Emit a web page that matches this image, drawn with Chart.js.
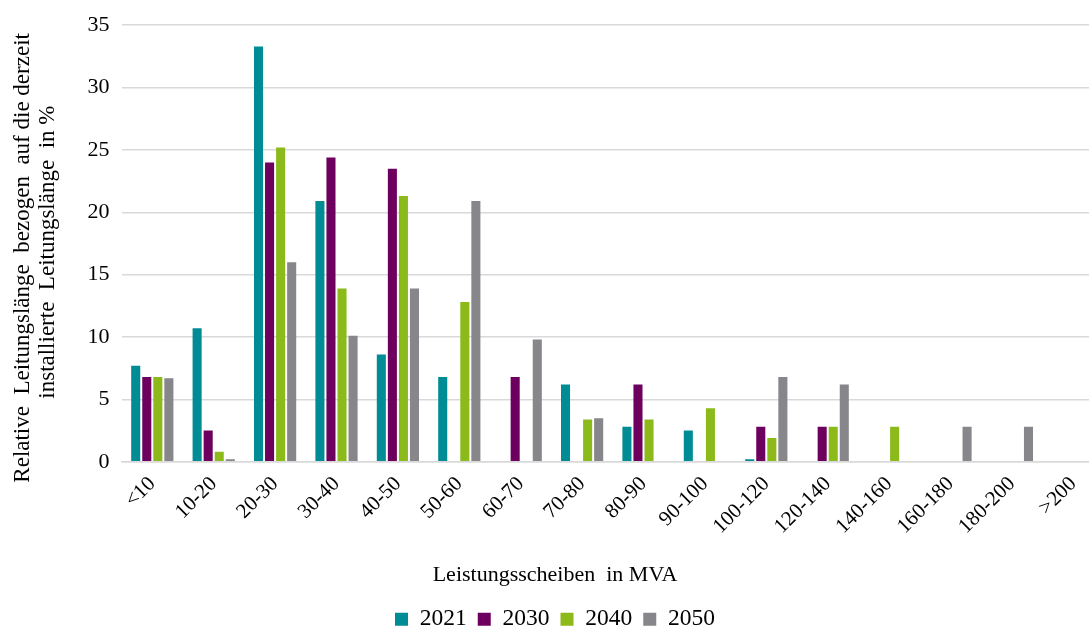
<!DOCTYPE html>
<html>
<head>
<meta charset="utf-8">
<script src="https://cdn.jsdelivr.net/npm/chart.js@4/dist/chart.umd.min.js"></script>
<style>
  html, body { margin: 0; padding: 0; background: #fff; overflow: hidden; }
  #wrap { width: 1110px; height: 641px; }
</style>
</head>
<body>
<div id="wrap"><canvas id="c"></canvas></div>
<script>
// Leistungsscheiben (MVA) and share of line length per year
const categories = ['<10','10-20','20-30','30-40','40-50','50-60','60-70','70-80','80-90','90-100','100-120','120-140','140-160','160-180','180-200','>200'];
const years = ['2021','2030','2040','2050'];
const v2021 = [7.7, 10.7, 33.3, 20.9, 8.6, 6.8, 0, 6.2, 2.8, 2.5, 0.2, 0, 0, 0, 0, 0];
const v2030 = [6.8, 2.5, 24.0, 24.4, 23.5, 0, 6.8, 0, 6.2, 0, 2.8, 2.8, 0, 0, 0, 0];
const v2040 = [6.8, 0.8, 25.2, 13.9, 21.3, 12.8, 0, 3.4, 3.4, 4.3, 1.9, 2.8, 2.8, 0, 0, 0];
const v2050 = [6.7, 0.2, 16.0, 10.1, 13.9, 20.9, 9.8, 3.5, 0, 0, 6.8, 6.2, 0, 2.8, 2.8, 0];
const colors = ['#008C95', '#6D005E', '#8CBA1A', '#86868B'];

const font = 'Liberation Serif, Times New Roman, serif';
const series = [v2021, v2030, v2040, v2050];

new Chart(document.getElementById('c').getContext('2d'), {
  type: 'bar',
  data: {
    labels: categories,
    datasets: series.map((d, i) => ({
      label: years[i],
      data: d,
      backgroundColor: colors[i],
      borderWidth: 0,
      categoryPercentage: 0.72,
      barPercentage: 0.82,
    }))
  },
  options: {
    responsive: true,
    maintainAspectRatio: false,
    animation: false,
    layout: { padding: { top: 4, right: 6, left: 6, bottom: 0 } },
    plugins: {
      title: {
        display: true, position: 'bottom', weight: 500, text: 'Leistungsscheiben  in MVA',
        font: { family: font, size: 22, weight: 'normal' }, color: '#000', padding: { top: 21, bottom: 8 }
      },
      legend: {
        position: 'bottom',
        labels: { font: { family: font, size: 23.5 }, color: '#000', boxWidth: 13, boxHeight: 13, padding: 11 }
      },
      tooltip: { enabled: false }
    },
    scales: {
      x: {
        grid: { display: false },
        border: { color: '#d9d9d9', width: 1.5 },
        ticks: { font: { family: font, size: 21 }, color: '#000', maxRotation: 45, minRotation: 45, padding: 2 }
      },
      y: {
        min: 0, max: 35,
        ticks: { stepSize: 5, font: { family: font, size: 22 }, color: '#000', padding: 12 },
        grid: { color: '#d9d9d9', lineWidth: 1.5, drawTicks: false },
        border: { display: false },
        title: {
          display: true,
          text: ['Relative  Leitungslänge  bezogen  auf die derzeit     ', 'installierte  Leitungslänge  in %   '],
          font: { family: font, size: 23, lineHeight: 1.1 }, color: '#000', padding: { bottom: 15 }
        }
      }
    }
  }
});
</script>
</body>
</html>
